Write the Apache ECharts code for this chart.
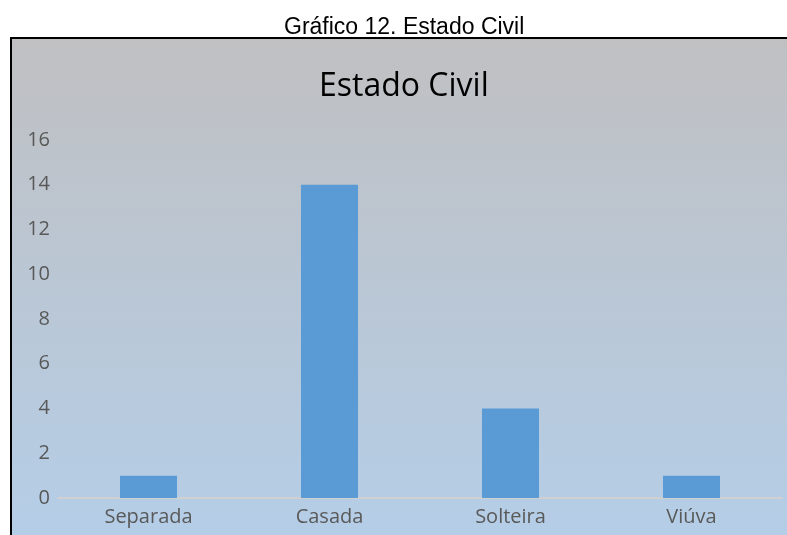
<!DOCTYPE html>
<html>
<head>
<meta charset="utf-8">
<script src="https://cdn.jsdelivr.net/npm/echarts@6/dist/echarts.min.js"></script>
<style>
  html, body { margin: 0; padding: 0; background: #fff; }
  #chart { width: 787px; height: 535px; }
</style>
</head>
<body>
<div id="chart"></div>
<script>
var categories = ['Separada', 'Casada', 'Solteira', 'Viúva'];
var values = [1, 14, 4, 1];

var myChart = echarts.init(document.getElementById('chart'));

var option = {
  backgroundColor: '#fff',
  animation: false,
  graphic: [
    {
      type: 'rect',
      z: -10,
      shape: { x: 11, y: 38, width: 790, height: 510 },
      style: {
        fill: new echarts.graphic.LinearGradient(0, 0, 0, 1, [
          { offset: 0, color: '#c0c0c2' },
          { offset: 1, color: '#b4cee8' }
        ]),
        stroke: '#000',
        lineWidth: 2
      }
    }
  ],
  title: [
    {
      text: 'Gráfico 12. Estado Civil',
      left: 279,
      top: 11,
      textStyle: { fontFamily: 'Liberation Sans', fontSize: 23, fontWeight: 'normal', color: '#000' }
    },
    {
      text: 'Estado Civil',
      left: 314,
      top: 66,
      textStyle: { fontFamily: 'Open Sans', fontSize: 32, fontWeight: 'normal', color: '#000' }
    }
  ],
  grid: { left: 58, right: 5, top: 140, bottom: 37, containLabel: false },
  xAxis: {
    type: 'category',
    data: categories,
    axisLine: { lineStyle: { color: '#d0d0d0', width: 2 } },
    axisTick: { show: false },
    axisLabel: { color: '#595959', fontSize: 20, fontFamily: 'Open Sans', margin: 9 }
  },
  yAxis: {
    type: 'value',
    min: 0,
    max: 16,
    interval: 2,
    splitLine: { show: false },
    axisLine: { show: false },
    axisTick: { show: false },
    axisLabel: { color: '#595959', fontSize: 20, fontFamily: 'Open Sans', margin: 8 }
  },
  series: [
    {
      type: 'bar',
      data: values,
      barWidth: '31.5%',
      itemStyle: { color: '#5b9bd5' }
    }
  ]
};

myChart.setOption(option);
</script>
</body>
</html>
